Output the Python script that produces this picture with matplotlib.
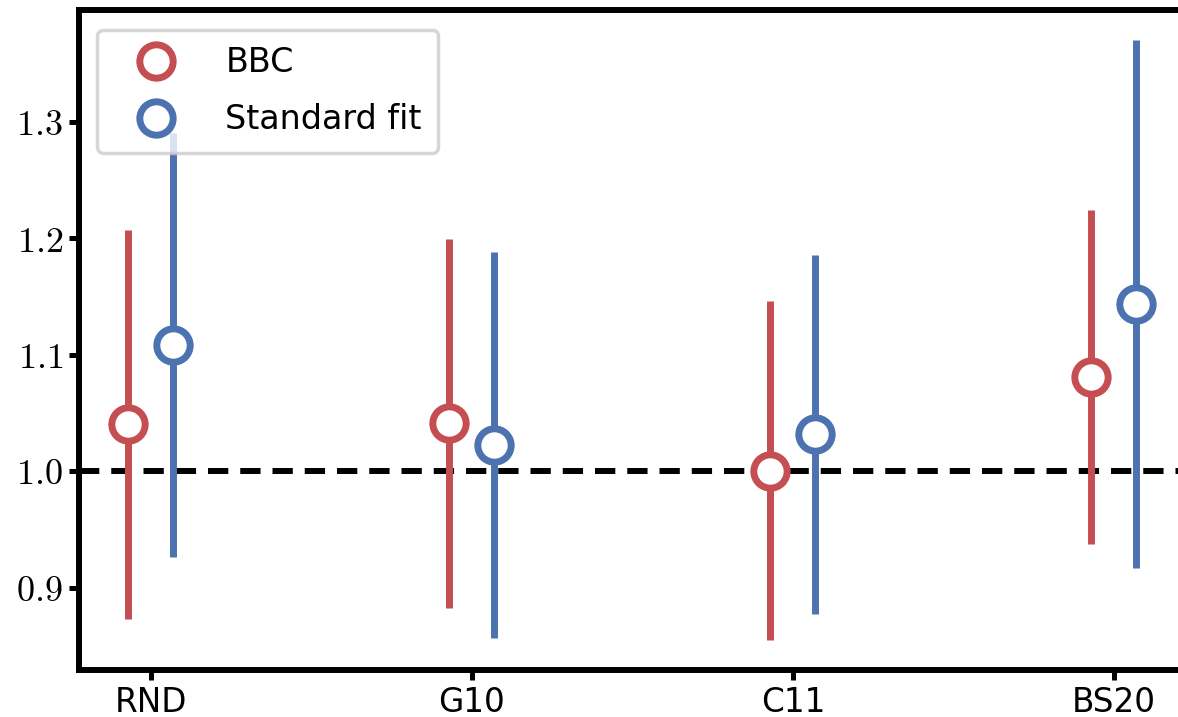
import matplotlib
matplotlib.use("Agg")
import matplotlib.pyplot as plt
import numpy as np

categories = ["RND", "G10", "C11", "BS20"]
bbc_val = [1.040, 1.041, 1.000, 1.081]
bbc_lo = [0.873, 0.882, 0.855, 0.937]
bbc_hi = [1.207, 1.199, 1.146, 1.224]
std_val = [1.108, 1.022, 1.032, 1.143]
std_lo = [0.926, 0.857, 0.877, 0.917]
std_hi = [1.290, 1.188, 1.185, 1.370]
yticks = [0.9, 1.0, 1.1, 1.2, 1.3]

plt.rcParams['mathtext.fontset'] = 'cm'
plt.rcParams['font.family'] = ['DejaVu Sans']

W, H = 1178, 717
fig = plt.figure(figsize=(W / 100, H / 100), dpi=100)
ax = fig.add_axes([79 / W, 1 - 670 / H, (1200 - 79) / W, (670 - 10) / H])

red = "#C44E52"
blue = "#4C72B0"
x = np.arange(len(categories))
off = 0.07

def draw(xs, v, lo, hi, c, label):
    v = np.array(v); lo = np.array(lo); hi = np.array(hi)
    ax.errorbar(xs, v, yerr=[v - lo, hi - v], fmt='o', color=c, ecolor=c,
                elinewidth=5, capsize=0, ms=24, mew=5, mfc='white', mec=c,
                label=label, zorder=3)

draw(x - off, bbc_val, bbc_lo, bbc_hi, red, "BBC")
draw(x + off, std_val, std_lo, std_hi, blue, "Standard fit")

ax.axhline(1.0, color='black', lw=4.3, ls=(0, (3.4, 2.0)), zorder=2)

ax.set_xlim(-0.224, -0.224 + (1200 - 79) / 321.0)
ax.set_ylim(1 - 199 / 1165, 1 + 461 / 1165)
ax.set_xticks(x)
ax.set_xticklabels(categories, fontsize=23.5)
ax.set_yticks(yticks)
ax.set_yticklabels([r"$%.1f$" % t for t in yticks], fontsize=26)

for s in ax.spines.values():
    s.set_linewidth(4.3)
ax.tick_params(width=3.6, length=7.5, direction='out', pad=4)

leg = ax.legend(loc='upper left', fontsize=24, frameon=True, fancybox=True,
                borderpad=0.5, handletextpad=0.8, labelspacing=0.72,
                handlelength=2.55, borderaxespad=0,
                bbox_to_anchor=(0.016, 0.970))
for h in leg.legend_handles:
    try:
        for child in h.get_children():
            if child.__class__.__name__ == 'LineCollection':
                child.set_visible(False)
    except Exception:
        pass
leg.get_frame().set_edgecolor('#cccccc')
leg.get_frame().set_linewidth(2.5)

fig.savefig("out.png", dpi=100)
